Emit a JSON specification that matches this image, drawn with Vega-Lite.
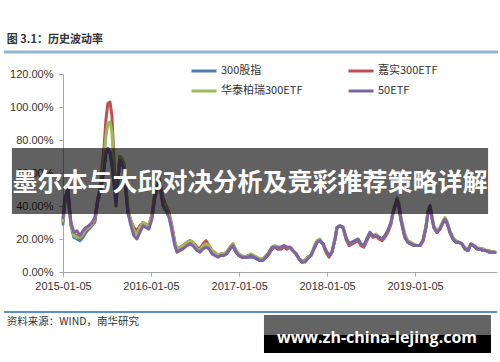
{
  "$schema": "https://vega.github.io/schema/vega-lite/v6.json",
  "autosize": "none",
  "width": 434,
  "height": 198,
  "padding": {"left": 63, "top": 74, "right": 3, "bottom": 90},
  "background": "#ffffff",
  "config": {
    "view": {"stroke": null},
    "font": "Noto Sans CJK SC"
  },
  "layer": [
    {
      "data": {
        "values": [
          {"date": "2015-01-05", "300股指": 0.29, "嘉实300ETF": 0.31, "华泰柏瑞300ETF": 0.31, "50ETF": 0.33},
          {"date": "2015-01-13", "300股指": 0.42, "嘉实300ETF": 0.44, "华泰柏瑞300ETF": 0.44, "50ETF": 0.45},
          {"date": "2015-01-25", "300股指": 0.48, "嘉实300ETF": 0.50, "华泰柏瑞300ETF": 0.49, "50ETF": 0.50},
          {"date": "2015-02-07", "300股指": 0.28, "嘉实300ETF": 0.29, "华泰柏瑞300ETF": 0.29, "50ETF": 0.30},
          {"date": "2015-02-19", "300股指": 0.21, "嘉实300ETF": 0.23, "华泰柏瑞300ETF": 0.22, "50ETF": 0.24},
          {"date": "2015-03-04", "300股指": 0.20, "嘉实300ETF": 0.22, "华泰柏瑞300ETF": 0.21, "50ETF": 0.25},
          {"date": "2015-03-16", "300股指": 0.19, "嘉实300ETF": 0.20, "华泰柏瑞300ETF": 0.21, "50ETF": 0.22},
          {"date": "2015-03-29", "300股指": 0.21, "嘉实300ETF": 0.23, "华泰柏瑞300ETF": 0.23, "50ETF": 0.25},
          {"date": "2015-04-10", "300股指": 0.24, "嘉实300ETF": 0.25, "华泰柏瑞300ETF": 0.26, "50ETF": 0.27},
          {"date": "2015-04-22", "300股指": 0.26, "嘉实300ETF": 0.27, "华泰柏瑞300ETF": 0.27, "50ETF": 0.28},
          {"date": "2015-05-05", "300股指": 0.28, "嘉实300ETF": 0.29, "华泰柏瑞300ETF": 0.29, "50ETF": 0.30},
          {"date": "2015-05-17", "300股指": 0.31, "嘉实300ETF": 0.30, "华泰柏瑞300ETF": 0.32, "50ETF": 0.33},
          {"date": "2015-05-30", "300股指": 0.43, "嘉实300ETF": 0.44, "华泰柏瑞300ETF": 0.45, "50ETF": 0.45},
          {"date": "2015-06-11", "300股指": 0.50, "嘉实300ETF": 0.55, "华泰柏瑞300ETF": 0.52, "50ETF": 0.50},
          {"date": "2015-06-24", "300股指": 0.62, "嘉实300ETF": 0.75, "华泰柏瑞300ETF": 0.68, "50ETF": 0.62},
          {"date": "2015-07-02", "300股指": 0.72, "嘉实300ETF": 0.92, "华泰柏瑞300ETF": 0.82, "50ETF": 0.72},
          {"date": "2015-07-10", "300股指": 0.74, "嘉实300ETF": 1.02, "华泰柏瑞300ETF": 0.90, "50ETF": 0.75},
          {"date": "2015-07-19", "300股指": 0.72, "嘉实300ETF": 1.03, "华泰柏瑞300ETF": 0.91, "50ETF": 0.73},
          {"date": "2015-07-27", "300股指": 0.65, "嘉实300ETF": 0.95, "华泰柏瑞300ETF": 0.85, "50ETF": 0.65},
          {"date": "2015-08-04", "300股指": 0.55, "嘉实300ETF": 0.70, "华泰柏瑞300ETF": 0.65, "50ETF": 0.55},
          {"date": "2015-08-13", "300股指": 0.42, "嘉实300ETF": 0.45, "华泰柏瑞300ETF": 0.44, "50ETF": 0.40},
          {"date": "2015-08-21", "300股指": 0.56, "嘉实300ETF": 0.58, "华泰柏瑞300ETF": 0.57, "50ETF": 0.55},
          {"date": "2015-08-29", "300股指": 0.68, "嘉实300ETF": 0.70, "华泰柏瑞300ETF": 0.70, "50ETF": 0.68},
          {"date": "2015-09-06", "300股指": 0.67, "嘉实300ETF": 0.68, "华泰柏瑞300ETF": 0.69, "50ETF": 0.66},
          {"date": "2015-09-15", "300股指": 0.63, "嘉实300ETF": 0.65, "华泰柏瑞300ETF": 0.66, "50ETF": 0.62},
          {"date": "2015-09-23", "300股指": 0.50, "嘉实300ETF": 0.52, "华泰柏瑞300ETF": 0.50, "50ETF": 0.48},
          {"date": "2015-10-01", "300股指": 0.37, "嘉实300ETF": 0.38, "华泰柏瑞300ETF": 0.38, "50ETF": 0.36},
          {"date": "2015-10-14", "300股指": 0.30, "嘉实300ETF": 0.31, "华泰柏瑞300ETF": 0.31, "50ETF": 0.28},
          {"date": "2015-10-26", "300股指": 0.25, "嘉实300ETF": 0.27, "华泰柏瑞300ETF": 0.25, "50ETF": 0.22},
          {"date": "2015-11-08", "300股指": 0.23, "嘉实300ETF": 0.25, "华泰柏瑞300ETF": 0.23, "50ETF": 0.20},
          {"date": "2015-11-20", "300股指": 0.26, "嘉实300ETF": 0.28, "华泰柏瑞300ETF": 0.27, "50ETF": 0.24},
          {"date": "2015-12-03", "300股指": 0.28, "嘉实300ETF": 0.30, "华泰柏瑞300ETF": 0.30, "50ETF": 0.28},
          {"date": "2015-12-15", "300股指": 0.28, "嘉实300ETF": 0.29, "华泰柏瑞300ETF": 0.29, "50ETF": 0.27},
          {"date": "2015-12-27", "300股指": 0.27, "嘉实300ETF": 0.28, "华泰柏瑞300ETF": 0.28, "50ETF": 0.26},
          {"date": "2016-01-09", "300股指": 0.33, "嘉实300ETF": 0.35, "华泰柏瑞300ETF": 0.34, "50ETF": 0.32},
          {"date": "2016-01-21", "300股指": 0.46, "嘉实300ETF": 0.48, "华泰柏瑞300ETF": 0.47, "50ETF": 0.45},
          {"date": "2016-01-30", "300股指": 0.50, "嘉实300ETF": 0.52, "华泰柏瑞300ETF": 0.50, "50ETF": 0.50},
          {"date": "2016-02-07", "300股指": 0.55, "嘉实300ETF": 0.57, "华泰柏瑞300ETF": 0.56, "50ETF": 0.55},
          {"date": "2016-02-15", "300股指": 0.49, "嘉实300ETF": 0.52, "华泰柏瑞300ETF": 0.50, "50ETF": 0.48},
          {"date": "2016-02-24", "300股指": 0.42, "嘉实300ETF": 0.45, "华泰柏瑞300ETF": 0.43, "50ETF": 0.40},
          {"date": "2016-03-03", "300股指": 0.40, "嘉实300ETF": 0.42, "华泰柏瑞300ETF": 0.41, "50ETF": 0.38},
          {"date": "2016-03-11", "300股指": 0.37, "嘉实300ETF": 0.39, "华泰柏瑞300ETF": 0.38, "50ETF": 0.36},
          {"date": "2016-03-20", "300股指": 0.34, "嘉实300ETF": 0.36, "华泰柏瑞300ETF": 0.35, "50ETF": 0.33},
          {"date": "2016-03-28", "300股指": 0.29, "嘉实300ETF": 0.31, "华泰柏瑞300ETF": 0.30, "50ETF": 0.28},
          {"date": "2016-04-05", "300股指": 0.23, "嘉实300ETF": 0.25, "华泰柏瑞300ETF": 0.24, "50ETF": 0.22},
          {"date": "2016-04-13", "300股指": 0.17, "嘉实300ETF": 0.18, "华泰柏瑞300ETF": 0.18, "50ETF": 0.16},
          {"date": "2016-04-22", "300股指": 0.13, "嘉实300ETF": 0.14, "华泰柏瑞300ETF": 0.14, "50ETF": 0.12},
          {"date": "2016-05-04", "300股指": 0.14, "嘉实300ETF": 0.15, "华泰柏瑞300ETF": 0.15, "50ETF": 0.13},
          {"date": "2016-05-17", "300股指": 0.15, "嘉实300ETF": 0.16, "华泰柏瑞300ETF": 0.16, "50ETF": 0.14},
          {"date": "2016-06-02", "300股指": 0.17, "嘉实300ETF": 0.18, "华泰柏瑞300ETF": 0.18, "50ETF": 0.16},
          {"date": "2016-06-15", "300股指": 0.18, "嘉实300ETF": 0.19, "华泰柏瑞300ETF": 0.19, "50ETF": 0.17},
          {"date": "2016-06-27", "300股指": 0.17, "嘉实300ETF": 0.18, "华泰柏瑞300ETF": 0.18, "50ETF": 0.16},
          {"date": "2016-07-14", "300股指": 0.14, "嘉实300ETF": 0.15, "华泰柏瑞300ETF": 0.14, "50ETF": 0.13},
          {"date": "2016-07-26", "300股指": 0.13, "嘉实300ETF": 0.14, "华泰柏瑞300ETF": 0.13, "50ETF": 0.12},
          {"date": "2016-08-08", "300股指": 0.15, "嘉实300ETF": 0.17, "华泰柏瑞300ETF": 0.16, "50ETF": 0.14},
          {"date": "2016-08-20", "300股指": 0.16, "嘉实300ETF": 0.19, "华泰柏瑞300ETF": 0.17, "50ETF": 0.15},
          {"date": "2016-09-02", "300股指": 0.15, "嘉实300ETF": 0.16, "华泰柏瑞300ETF": 0.16, "50ETF": 0.14},
          {"date": "2016-09-14", "300股指": 0.12, "嘉实300ETF": 0.13, "华泰柏瑞300ETF": 0.13, "50ETF": 0.11},
          {"date": "2016-09-26", "300股指": 0.11, "嘉实300ETF": 0.12, "华泰柏瑞300ETF": 0.12, "50ETF": 0.10},
          {"date": "2016-10-09", "300股指": 0.10, "嘉实300ETF": 0.10, "华泰柏瑞300ETF": 0.10, "50ETF": 0.09},
          {"date": "2016-10-21", "300股指": 0.10, "嘉实300ETF": 0.11, "华泰柏瑞300ETF": 0.11, "50ETF": 0.10},
          {"date": "2016-11-03", "300股指": 0.11, "嘉实300ETF": 0.11, "华泰柏瑞300ETF": 0.11, "50ETF": 0.10},
          {"date": "2016-11-15", "300股指": 0.12, "嘉实300ETF": 0.12, "华泰柏瑞300ETF": 0.12, "50ETF": 0.11},
          {"date": "2016-11-28", "300股指": 0.14, "嘉实300ETF": 0.15, "华泰柏瑞300ETF": 0.15, "50ETF": 0.14},
          {"date": "2016-12-10", "300股指": 0.16, "嘉实300ETF": 0.17, "华泰柏瑞300ETF": 0.17, "50ETF": 0.16},
          {"date": "2016-12-23", "300股指": 0.12, "嘉实300ETF": 0.13, "华泰柏瑞300ETF": 0.13, "50ETF": 0.12},
          {"date": "2017-01-04", "300股指": 0.10, "嘉实300ETF": 0.10, "华泰柏瑞300ETF": 0.11, "50ETF": 0.10},
          {"date": "2017-01-16", "300股指": 0.09, "嘉实300ETF": 0.09, "华泰柏瑞300ETF": 0.10, "50ETF": 0.09},
          {"date": "2017-01-29", "300股指": 0.09, "嘉实300ETF": 0.09, "华泰柏瑞300ETF": 0.09, "50ETF": 0.09},
          {"date": "2017-02-10", "300股指": 0.09, "嘉实300ETF": 0.10, "华泰柏瑞300ETF": 0.10, "50ETF": 0.09},
          {"date": "2017-02-23", "300股指": 0.09, "嘉实300ETF": 0.10, "华泰柏瑞300ETF": 0.11, "50ETF": 0.10},
          {"date": "2017-03-07", "300股指": 0.09, "嘉实300ETF": 0.09, "华泰柏瑞300ETF": 0.10, "50ETF": 0.09},
          {"date": "2017-03-20", "300股指": 0.08, "嘉实300ETF": 0.08, "华泰柏瑞300ETF": 0.09, "50ETF": 0.08},
          {"date": "2017-04-01", "300股指": 0.07, "嘉实300ETF": 0.07, "华泰柏瑞300ETF": 0.08, "50ETF": 0.07},
          {"date": "2017-04-14", "300股指": 0.08, "嘉实300ETF": 0.08, "华泰柏瑞300ETF": 0.08, "50ETF": 0.07},
          {"date": "2017-04-26", "300股指": 0.09, "嘉实300ETF": 0.09, "华泰柏瑞300ETF": 0.10, "50ETF": 0.09},
          {"date": "2017-05-09", "300股指": 0.11, "嘉实300ETF": 0.11, "华泰柏瑞300ETF": 0.12, "50ETF": 0.12},
          {"date": "2017-05-21", "300股指": 0.14, "嘉实300ETF": 0.14, "华泰柏瑞300ETF": 0.15, "50ETF": 0.15},
          {"date": "2017-06-02", "300股指": 0.15, "嘉实300ETF": 0.15, "华泰柏瑞300ETF": 0.16, "50ETF": 0.15},
          {"date": "2017-06-15", "300股指": 0.14, "嘉实300ETF": 0.14, "华泰柏瑞300ETF": 0.15, "50ETF": 0.15},
          {"date": "2017-06-27", "300股指": 0.14, "嘉实300ETF": 0.14, "华泰柏瑞300ETF": 0.15, "50ETF": 0.15},
          {"date": "2017-07-10", "300股指": 0.15, "嘉实300ETF": 0.15, "华泰柏瑞300ETF": 0.16, "50ETF": 0.16},
          {"date": "2017-07-22", "300股指": 0.14, "嘉实300ETF": 0.14, "华泰柏瑞300ETF": 0.15, "50ETF": 0.15},
          {"date": "2017-08-04", "300股指": 0.15, "嘉实300ETF": 0.15, "华泰柏瑞300ETF": 0.15, "50ETF": 0.15},
          {"date": "2017-08-16", "300股指": 0.13, "嘉实300ETF": 0.13, "华泰柏瑞300ETF": 0.13, "50ETF": 0.13},
          {"date": "2017-08-29", "300股指": 0.11, "嘉实300ETF": 0.11, "华泰柏瑞300ETF": 0.11, "50ETF": 0.11},
          {"date": "2017-09-10", "300股指": 0.08, "嘉实300ETF": 0.08, "华泰柏瑞300ETF": 0.08, "50ETF": 0.08},
          {"date": "2017-09-23", "300股指": 0.06, "嘉实300ETF": 0.06, "华泰柏瑞300ETF": 0.07, "50ETF": 0.06},
          {"date": "2017-10-05", "300股指": 0.07, "嘉实300ETF": 0.07, "华泰柏瑞300ETF": 0.07, "50ETF": 0.06},
          {"date": "2017-10-17", "300股指": 0.09, "嘉实300ETF": 0.09, "华泰柏瑞300ETF": 0.09, "50ETF": 0.08},
          {"date": "2017-10-30", "300股指": 0.10, "嘉实300ETF": 0.10, "华泰柏瑞300ETF": 0.10, "50ETF": 0.10},
          {"date": "2017-11-11", "300股指": 0.14, "嘉实300ETF": 0.14, "华泰柏瑞300ETF": 0.15, "50ETF": 0.14},
          {"date": "2017-11-24", "300股指": 0.18, "嘉实300ETF": 0.18, "华泰柏瑞300ETF": 0.19, "50ETF": 0.18},
          {"date": "2017-12-06", "300股指": 0.19, "嘉实300ETF": 0.19, "华泰柏瑞300ETF": 0.20, "50ETF": 0.19},
          {"date": "2017-12-19", "300股指": 0.17, "嘉实300ETF": 0.17, "华泰柏瑞300ETF": 0.17, "50ETF": 0.17},
          {"date": "2017-12-31", "300股指": 0.13, "嘉实300ETF": 0.12, "华泰柏瑞300ETF": 0.13, "50ETF": 0.13},
          {"date": "2018-01-13", "300股指": 0.10, "嘉实300ETF": 0.09, "华泰柏瑞300ETF": 0.10, "50ETF": 0.10},
          {"date": "2018-01-25", "300股指": 0.12, "嘉实300ETF": 0.12, "华泰柏瑞300ETF": 0.12, "50ETF": 0.12},
          {"date": "2018-02-07", "300股指": 0.20, "嘉实300ETF": 0.20, "华泰柏瑞300ETF": 0.20, "50ETF": 0.20},
          {"date": "2018-02-15", "300股指": 0.27, "嘉实300ETF": 0.27, "华泰柏瑞300ETF": 0.27, "50ETF": 0.27},
          {"date": "2018-02-27", "300股指": 0.28, "嘉实300ETF": 0.28, "华泰柏瑞300ETF": 0.28, "50ETF": 0.28},
          {"date": "2018-03-12", "300股指": 0.27, "嘉实300ETF": 0.27, "华泰柏瑞300ETF": 0.27, "50ETF": 0.27},
          {"date": "2018-03-24", "300股指": 0.21, "嘉实300ETF": 0.20, "华泰柏瑞300ETF": 0.21, "50ETF": 0.21},
          {"date": "2018-04-06", "300股指": 0.17, "嘉实300ETF": 0.16, "华泰柏瑞300ETF": 0.17, "50ETF": 0.17},
          {"date": "2018-04-18", "300股指": 0.18, "嘉实300ETF": 0.17, "华泰柏瑞300ETF": 0.18, "50ETF": 0.18},
          {"date": "2018-05-01", "300股指": 0.19, "嘉实300ETF": 0.18, "华泰柏瑞300ETF": 0.19, "50ETF": 0.19},
          {"date": "2018-05-13", "300股指": 0.19, "嘉实300ETF": 0.19, "华泰柏瑞300ETF": 0.20, "50ETF": 0.20},
          {"date": "2018-05-25", "300股指": 0.17, "嘉实300ETF": 0.16, "华泰柏瑞300ETF": 0.17, "50ETF": 0.17},
          {"date": "2018-06-07", "300股指": 0.16, "嘉实300ETF": 0.15, "华泰柏瑞300ETF": 0.16, "50ETF": 0.16},
          {"date": "2018-06-19", "300股指": 0.20, "嘉实300ETF": 0.19, "华泰柏瑞300ETF": 0.20, "50ETF": 0.20},
          {"date": "2018-07-02", "300股指": 0.24, "嘉实300ETF": 0.23, "华泰柏瑞300ETF": 0.24, "50ETF": 0.24},
          {"date": "2018-07-14", "300股指": 0.22, "嘉实300ETF": 0.21, "华泰柏瑞300ETF": 0.22, "50ETF": 0.22},
          {"date": "2018-07-27", "300股指": 0.22, "嘉实300ETF": 0.22, "华泰柏瑞300ETF": 0.23, "50ETF": 0.22},
          {"date": "2018-08-08", "300股指": 0.21, "嘉实300ETF": 0.20, "华泰柏瑞300ETF": 0.21, "50ETF": 0.21},
          {"date": "2018-08-21", "300股指": 0.20, "嘉实300ETF": 0.19, "华泰柏瑞300ETF": 0.20, "50ETF": 0.20},
          {"date": "2018-09-02", "300股指": 0.22, "嘉实300ETF": 0.21, "华泰柏瑞300ETF": 0.22, "50ETF": 0.22},
          {"date": "2018-09-14", "300股指": 0.25, "嘉实300ETF": 0.24, "华泰柏瑞300ETF": 0.25, "50ETF": 0.25},
          {"date": "2018-09-27", "300股指": 0.30, "嘉实300ETF": 0.29, "华泰柏瑞300ETF": 0.30, "50ETF": 0.30},
          {"date": "2018-10-05", "300股指": 0.36, "嘉实300ETF": 0.35, "华泰柏瑞300ETF": 0.36, "50ETF": 0.36},
          {"date": "2018-10-14", "300股指": 0.40, "嘉实300ETF": 0.40, "华泰柏瑞300ETF": 0.41, "50ETF": 0.40},
          {"date": "2018-10-22", "300股指": 0.44, "嘉实300ETF": 0.44, "华泰柏瑞300ETF": 0.45, "50ETF": 0.44},
          {"date": "2018-10-30", "300股指": 0.40, "嘉实300ETF": 0.40, "华泰柏瑞300ETF": 0.42, "50ETF": 0.40},
          {"date": "2018-11-07", "300股指": 0.32, "嘉实300ETF": 0.32, "华泰柏瑞300ETF": 0.34, "50ETF": 0.32},
          {"date": "2018-11-16", "300股指": 0.26, "嘉实300ETF": 0.26, "华泰柏瑞300ETF": 0.28, "50ETF": 0.26},
          {"date": "2018-11-24", "300股指": 0.21, "嘉实300ETF": 0.21, "华泰柏瑞300ETF": 0.23, "50ETF": 0.21},
          {"date": "2018-12-06", "300股指": 0.18, "嘉实300ETF": 0.18, "华泰柏瑞300ETF": 0.19, "50ETF": 0.18},
          {"date": "2018-12-19", "300股指": 0.17, "嘉实300ETF": 0.17, "华泰柏瑞300ETF": 0.18, "50ETF": 0.17},
          {"date": "2018-12-31", "300股指": 0.16, "嘉实300ETF": 0.16, "华泰柏瑞300ETF": 0.17, "50ETF": 0.16},
          {"date": "2019-01-13", "300股指": 0.16, "嘉实300ETF": 0.16, "华泰柏瑞300ETF": 0.16, "50ETF": 0.16},
          {"date": "2019-01-25", "300股指": 0.16, "嘉实300ETF": 0.16, "华泰柏瑞300ETF": 0.16, "50ETF": 0.16},
          {"date": "2019-02-07", "300股指": 0.19, "嘉实300ETF": 0.19, "华泰柏瑞300ETF": 0.19, "50ETF": 0.19},
          {"date": "2019-02-19", "300股指": 0.27, "嘉实300ETF": 0.27, "华泰柏瑞300ETF": 0.28, "50ETF": 0.27},
          {"date": "2019-02-28", "300股指": 0.36, "嘉实300ETF": 0.37, "华泰柏瑞300ETF": 0.37, "50ETF": 0.36},
          {"date": "2019-03-08", "300股指": 0.40, "嘉实300ETF": 0.40, "华泰柏瑞300ETF": 0.40, "50ETF": 0.40},
          {"date": "2019-03-16", "300股指": 0.33, "嘉实300ETF": 0.33, "华泰柏瑞300ETF": 0.34, "50ETF": 0.33},
          {"date": "2019-03-24", "300股指": 0.27, "嘉实300ETF": 0.27, "华泰柏瑞300ETF": 0.28, "50ETF": 0.27},
          {"date": "2019-04-06", "300股指": 0.24, "嘉实300ETF": 0.24, "华泰柏瑞300ETF": 0.25, "50ETF": 0.24},
          {"date": "2019-04-18", "300股指": 0.26, "嘉实300ETF": 0.26, "华泰柏瑞300ETF": 0.27, "50ETF": 0.26},
          {"date": "2019-05-01", "300股指": 0.30, "嘉实300ETF": 0.30, "华泰柏瑞300ETF": 0.31, "50ETF": 0.30},
          {"date": "2019-05-09", "300股指": 0.32, "嘉实300ETF": 0.32, "华泰柏瑞300ETF": 0.33, "50ETF": 0.32},
          {"date": "2019-05-17", "300股指": 0.30, "嘉实300ETF": 0.30, "华泰柏瑞300ETF": 0.31, "50ETF": 0.30},
          {"date": "2019-05-30", "300股指": 0.24, "嘉实300ETF": 0.24, "华泰柏瑞300ETF": 0.25, "50ETF": 0.24},
          {"date": "2019-06-11", "300股指": 0.20, "嘉实300ETF": 0.20, "华泰柏瑞300ETF": 0.21, "50ETF": 0.20},
          {"date": "2019-06-24", "300股指": 0.18, "嘉实300ETF": 0.18, "华泰柏瑞300ETF": 0.19, "50ETF": 0.18},
          {"date": "2019-07-06", "300股指": 0.18, "嘉实300ETF": 0.18, "华泰柏瑞300ETF": 0.18, "50ETF": 0.18},
          {"date": "2019-07-19", "300股指": 0.17, "嘉实300ETF": 0.17, "华泰柏瑞300ETF": 0.17, "50ETF": 0.17},
          {"date": "2019-07-31", "300股指": 0.14, "嘉实300ETF": 0.14, "华泰柏瑞300ETF": 0.15, "50ETF": 0.14},
          {"date": "2019-08-13", "300股指": 0.13, "嘉实300ETF": 0.13, "华泰柏瑞300ETF": 0.14, "50ETF": 0.13},
          {"date": "2019-08-25", "300股指": 0.17, "嘉实300ETF": 0.17, "华泰柏瑞300ETF": 0.17, "50ETF": 0.17},
          {"date": "2019-09-06", "300股指": 0.16, "嘉实300ETF": 0.16, "华泰柏瑞300ETF": 0.16, "50ETF": 0.16},
          {"date": "2019-09-19", "300股指": 0.14, "嘉实300ETF": 0.14, "华泰柏瑞300ETF": 0.15, "50ETF": 0.14},
          {"date": "2019-10-01", "300股指": 0.14, "嘉实300ETF": 0.14, "华泰柏瑞300ETF": 0.14, "50ETF": 0.14},
          {"date": "2019-10-14", "300股指": 0.13, "嘉实300ETF": 0.14, "华泰柏瑞300ETF": 0.14, "50ETF": 0.13},
          {"date": "2019-10-26", "300股指": 0.13, "嘉实300ETF": 0.13, "华泰柏瑞300ETF": 0.13, "50ETF": 0.13},
          {"date": "2019-11-08", "300股指": 0.12, "嘉实300ETF": 0.13, "华泰柏瑞300ETF": 0.13, "50ETF": 0.12},
          {"date": "2019-11-20", "300股指": 0.12, "嘉实300ETF": 0.12, "华泰柏瑞300ETF": 0.12, "50ETF": 0.12},
          {"date": "2019-12-03", "300股指": 0.12, "嘉实300ETF": 0.12, "华泰柏瑞300ETF": 0.12, "50ETF": 0.12}
        ]
      },
      "transform": [
        {"fold": ["300股指", "嘉实300ETF", "华泰柏瑞300ETF", "50ETF"], "as": ["series", "vol"]}
      ],
      "mark": {"type": "line", "strokeWidth": 3, "strokeJoin": "round", "strokeCap": "round"},
      "encoding": {
        "x": {
          "field": "date",
          "type": "temporal",
          "scale": {
            "type": "utc",
            "domain": [
              {"year": 2015, "month": 1, "date": 5, "utc": true},
              {"year": 2019, "month": 12, "date": 11, "utc": true}
            ],
            "nice": false
          },
          "axis": {
            "title": null,
            "values": [
              {"year": 2015, "month": 1, "date": 5, "utc": true},
              {"year": 2016, "month": 1, "date": 5, "utc": true},
              {"year": 2017, "month": 1, "date": 5, "utc": true},
              {"year": 2018, "month": 1, "date": 5, "utc": true},
              {"year": 2019, "month": 1, "date": 5, "utc": true}
            ],
            "tickCount": 12,
            "format": "%Y-%m-%d",
            "grid": false,
            "domainColor": "#a6a6a6",
            "tickColor": "#a6a6a6",
            "tickSize": 4,
            "labelFont": "Liberation Sans",
            "labelFontSize": 11,
            "labelColor": "#333333",
            "labelPadding": 4,
            "labelFlush": false,
            "labelOverlap": false
          }
        },
        "y": {
          "field": "vol",
          "type": "quantitative",
          "scale": {"domain": [0, 1.2], "nice": false, "zero": true},
          "axis": {
            "title": null,
            "values": [0, 0.2, 0.4, 0.6, 0.8, 1.0, 1.2],
            "tickCount": 12,
            "format": ".2%",
            "grid": false,
            "domainColor": "#a6a6a6",
            "tickColor": "#a6a6a6",
            "tickSize": 4,
            "labelFont": "Liberation Sans",
            "labelFontSize": 11,
            "labelColor": "#333333",
            "labelPadding": 6,
            "labelOverlap": false
          }
        },
        "color": {
          "field": "series",
          "type": "nominal",
          "scale": {
            "domain": ["300股指", "华泰柏瑞300ETF", "嘉实300ETF", "50ETF"],
            "range": ["#4a7ebb", "#9bbb59", "#c0504d", "#8064a2"]
          },
          "legend": {
            "title": null,
            "orient": "none",
            "legendX": 127,
            "legendY": -17,
            "columns": 2,
            "symbolType": "stroke",
            "symbolSize": 625,
            "symbolStrokeWidth": 3,
            "labelFont": "Noto Sans CJK SC",
            "labelFontSize": 11,
            "labelColor": "#333333",
            "labelOffset": 3,
            "columnPadding": 39,
            "rowPadding": -11,
            "padding": 0
          }
        }
      }
    },
    {
      "data": {"values": [{}]},
      "mark": {"type": "rect", "fill": "#000000", "fillOpacity": 0.62},
      "encoding": {
        "x": {"datum": {"year": 2014, "month": 6, "date": 7, "utc": true}, "type": "temporal"},
        "x2": {"datum": {"year": 2019, "month": 11, "date": 4, "utc": true}},
        "y": {"datum": 0.7515, "type": "quantitative"},
        "y2": {"datum": 0.3515}
      }
    },
    {
      "data": {"values": [{}]},
      "mark": {"type": "text", "text": "墨尔本与大邱对决分析及竞彩推荐策略详解", "font": "Noto Sans CJK SC", "fontSize": 25, "fontWeight": "bold", "fill": "#ffffff", "align": "center", "baseline": "middle"},
      "encoding": {
        "x": {"datum": {"year": 2017, "month": 2, "date": 19, "utc": true}, "type": "temporal"},
        "y": {"datum": 0.539, "type": "quantitative"}
      }
    },
    {
      "data": {"values": [{}]},
      "mark": {"type": "text", "text": "图 3.1：历史波动率", "font": "Noto Sans CJK SC", "fontSize": 11, "fontWeight": "bold", "fill": "#333333", "align": "left", "baseline": "middle"},
      "encoding": {
        "x": {"datum": {"year": 2014, "month": 5, "date": 17, "utc": true}, "type": "temporal"},
        "y": {"datum": 1.406, "type": "quantitative"}
      }
    },
    {
      "data": {"values": [{}]},
      "mark": {"type": "rule", "stroke": "#93b8d3", "strokeWidth": 3},
      "encoding": {
        "x": {"datum": {"year": 2014, "month": 5, "date": 5, "utc": true}, "type": "temporal"},
        "x2": {"datum": {"year": 2019, "month": 12, "date": 15, "utc": true}},
        "y": {"datum": 1.333, "type": "quantitative"}
      }
    },
    {
      "data": {"values": [{}]},
      "mark": {"type": "rule", "stroke": "#5b8fc7", "strokeWidth": 2},
      "encoding": {
        "x": {"datum": {"year": 2014, "month": 5, "date": 5, "utc": true}, "type": "temporal"},
        "x2": {"datum": {"year": 2019, "month": 12, "date": 11, "utc": true}},
        "y": {"datum": -0.2424, "type": "quantitative"}
      }
    },
    {
      "data": {"values": [{}]},
      "mark": {"type": "text", "text": "资料来源：WIND，南华研究", "font": "Noto Sans CJK SC", "fontSize": 10.5, "fill": "#333333", "align": "left", "baseline": "middle"},
      "encoding": {
        "x": {"datum": {"year": 2014, "month": 5, "date": 17, "utc": true}, "type": "temporal"},
        "y": {"datum": -0.303, "type": "quantitative"}
      }
    },
    {
      "data": {"values": [{}]},
      "mark": {"type": "rect", "fill": "#646464"},
      "encoding": {
        "x": {"datum": {"year": 2017, "month": 4, "date": 18, "utc": true}, "type": "temporal"},
        "x2": {"datum": {"year": 2019, "month": 11, "date": 16, "utc": true}},
        "y": {"datum": -0.2606, "type": "quantitative"},
        "y2": {"datum": -0.3818}
      }
    },
    {
      "data": {"values": [{}]},
      "mark": {"type": "rect", "fill": "#000000"},
      "encoding": {
        "x": {"datum": {"year": 2017, "month": 4, "date": 18, "utc": true}, "type": "temporal"},
        "x2": {"datum": {"year": 2019, "month": 11, "date": 16, "utc": true}},
        "y": {"datum": -0.3818, "type": "quantitative"},
        "y2": {"datum": -0.4909}
      }
    },
    {
      "data": {"values": [{}]},
      "mark": {"type": "text", "text": "www.zh-china-lejing.com", "font": "Open Sans", "fontSize": 16, "fontWeight": "bold", "fill": "#ffffff", "align": "center", "baseline": "alphabetic"},
      "encoding": {
        "x": {"datum": {"year": 2018, "month": 7, "date": 31, "utc": true}, "type": "temporal"},
        "y": {"datum": -0.4303, "type": "quantitative"}
      }
    }
  ]
}
